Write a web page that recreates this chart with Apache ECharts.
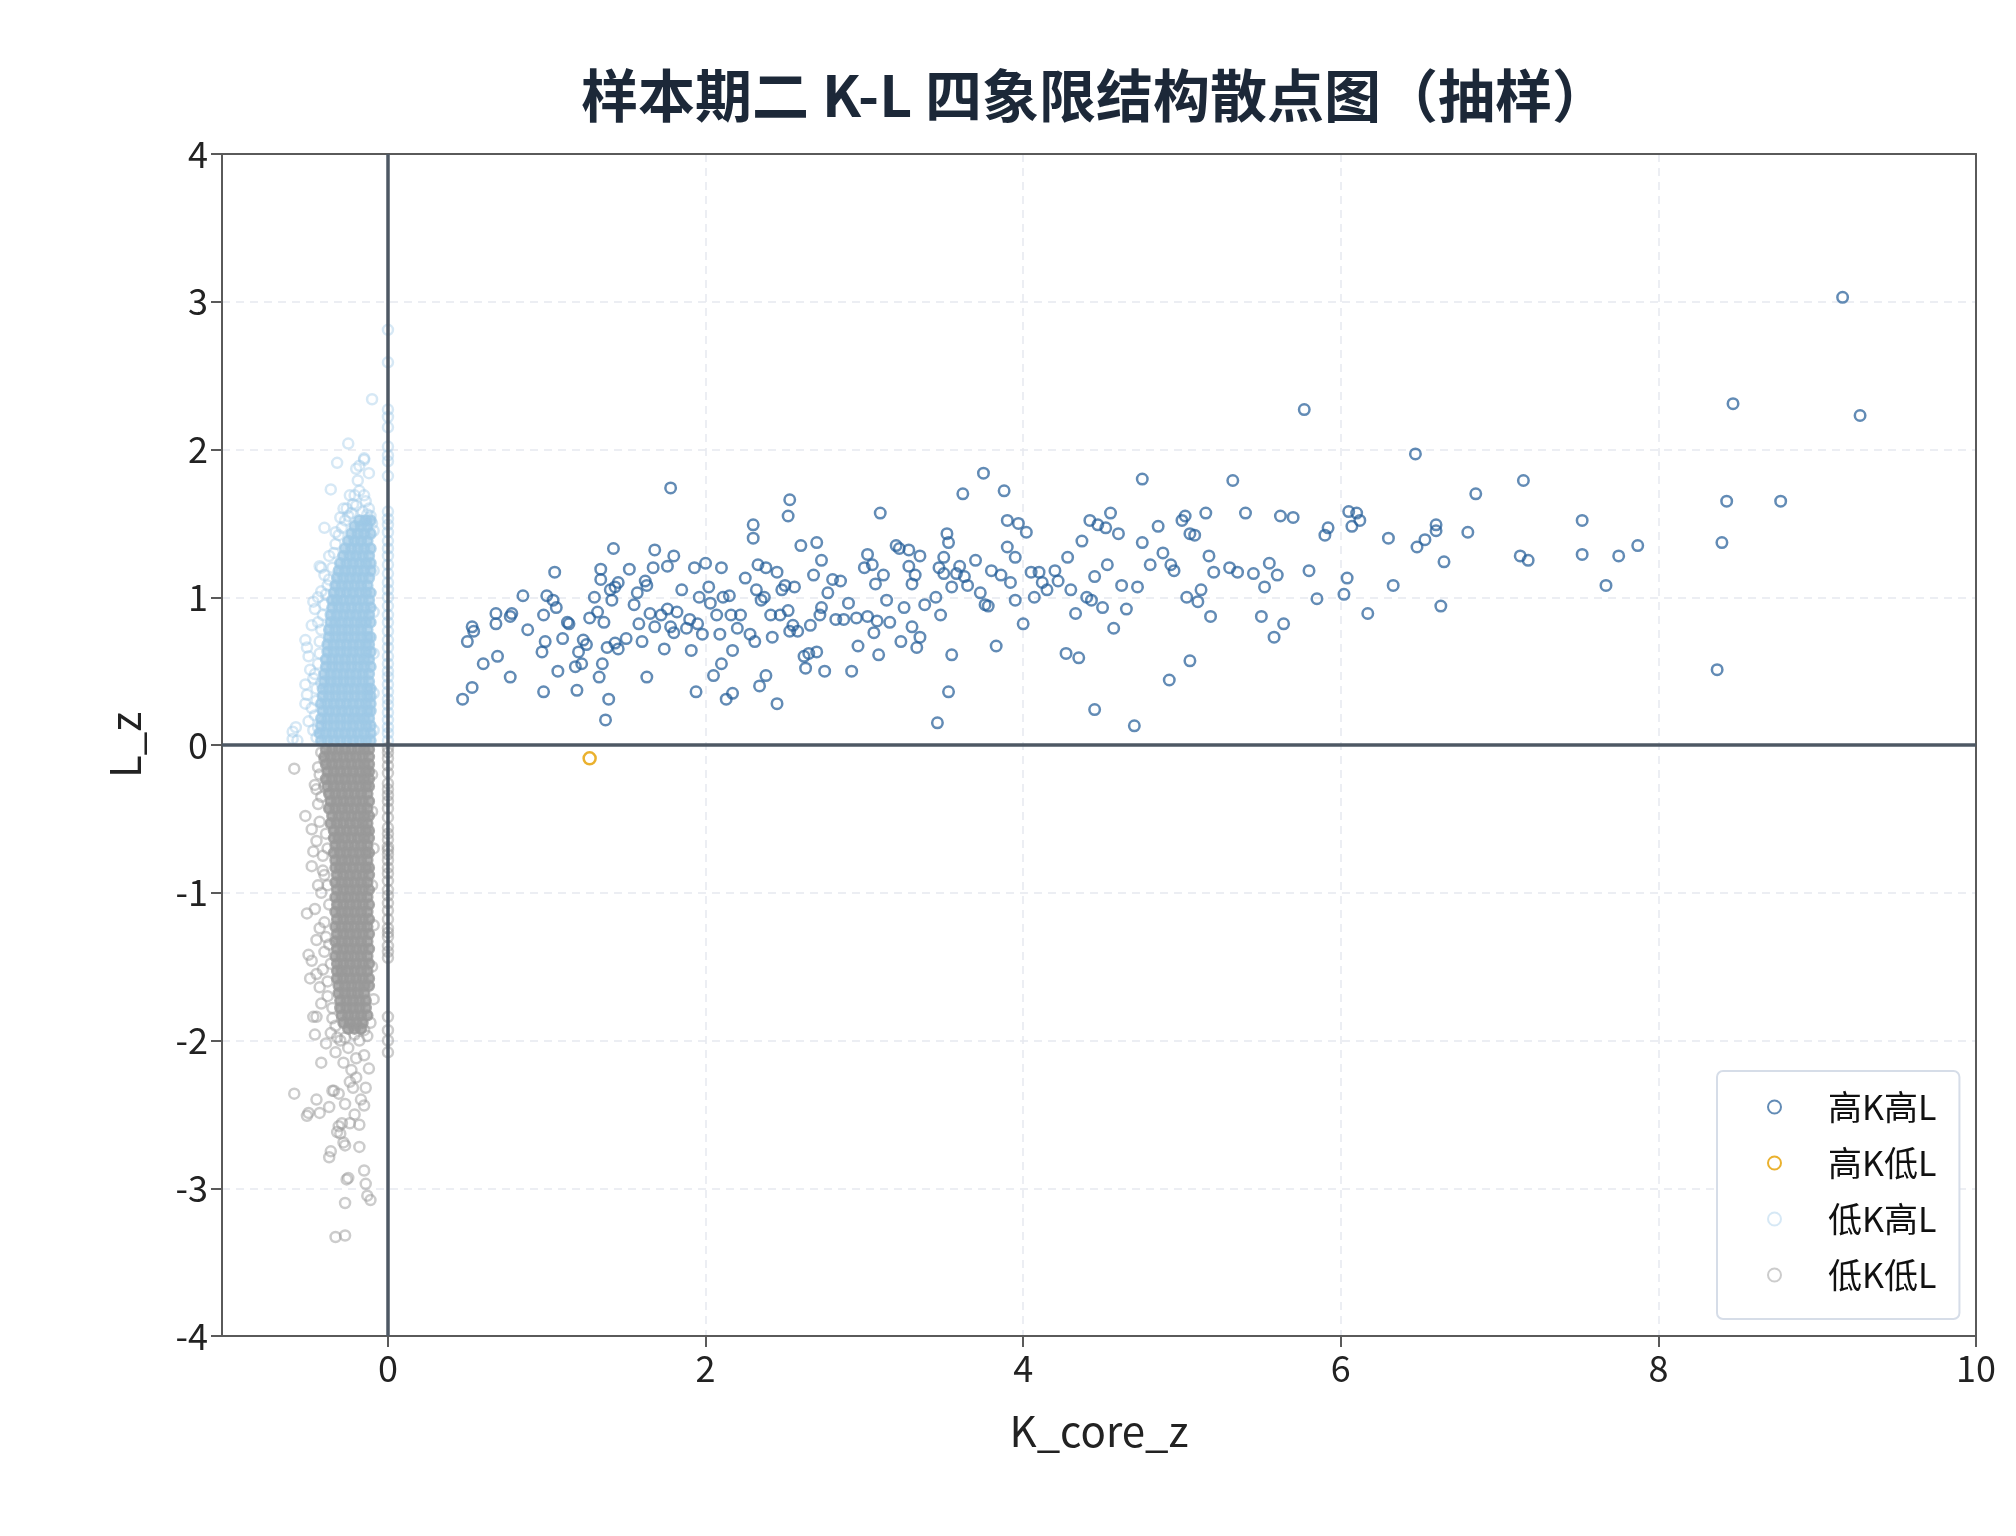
<!DOCTYPE html>
<html>
<head>
<meta charset="utf-8">
<style>
html,body{margin:0;padding:0;background:#fff;}
#chart{width:2016px;height:1536px;}
</style>
<script src="https://cdn.jsdelivr.net/npm/echarts@6/dist/echarts.min.js"></script>
</head>
<body>
<div id="chart"></div>
<script>
const titleText = '样本期二 K-L 四象限结构散点图（抽样）';
const seriesNames = ['高K高L', '高K低L', '低K高L', '低K低L'];
const xTicks = [0, 2, 4, 6, 8, 10];
const yTicks = [-4, -3, -2, -1, 0, 1, 2, 3, 4];

const highKHighL = [
[0.47,0.31],[0.50,0.70],[0.53,0.39],[0.53,0.80],[0.54,0.77],[0.60,0.55],[0.68,0.82],[0.68,0.89],[0.69,0.60],[0.77,0.46],
[0.77,0.87],[0.78,0.89],[0.85,1.01],[0.88,0.78],[0.97,0.63],[0.98,0.36],[0.98,0.88],[0.99,0.70],[1.00,1.01],[1.04,0.98],
[1.05,1.17],[1.06,0.93],[1.07,0.50],[1.10,0.72],[1.13,0.83],[1.14,0.82],[1.18,0.53],[1.19,0.37],[1.20,0.63],[1.22,0.55],
[1.23,0.71],[1.25,0.68],[1.27,0.86],[1.30,1.00],[1.32,0.90],[1.33,0.46],[1.34,1.12],[1.34,1.19],[1.35,0.55],[1.36,0.83],
[1.37,0.17],[1.38,0.66],[1.39,0.31],[1.40,1.05],[1.41,0.98],[1.42,1.33],[1.43,1.07],[1.43,0.69],[1.45,1.10],[1.45,0.65],
[1.50,0.72],[1.52,1.19],[1.55,0.95],[1.57,1.03],[1.58,0.82],[1.60,0.70],[1.62,1.11],[1.63,1.08],[1.63,0.46],[1.65,0.89],
[1.67,1.20],[1.68,0.80],[1.68,1.32],[1.72,0.88],[1.74,0.65],[1.76,1.21],[1.76,0.92],[1.78,1.74],[1.78,0.80],[1.80,0.76],
[1.80,1.28],[1.82,0.90],[1.85,1.05],[1.88,0.79],[1.90,0.85],[1.91,0.64],[1.93,1.20],[1.94,0.36],[1.95,0.82],[1.96,1.00],
[1.98,0.75],[2.00,1.23],[2.02,1.07],[2.03,0.96],[2.05,0.47],[2.07,0.88],[2.09,0.75],[2.10,0.55],[2.10,1.20],[2.11,1.00],
[2.13,0.31],[2.15,1.01],[2.16,0.88],[2.17,0.35],[2.17,0.64],[2.20,0.79],[2.22,0.88],[2.25,1.13],[2.28,0.75],[2.30,1.49],
[2.30,1.40],[2.31,0.70],[2.32,1.05],[2.33,1.22],[2.34,0.40],[2.35,0.98],[2.37,1.00],[2.38,0.47],[2.38,1.20],[2.41,0.88],
[2.42,0.73],[2.45,1.17],[2.45,0.28],[2.47,0.88],[2.48,1.05],[2.50,1.08],[2.52,1.55],[2.52,0.91],[2.53,0.77],[2.53,1.66],
[2.55,0.81],[2.56,1.07],[2.58,0.77],[2.60,1.35],[2.62,0.60],[2.63,0.52],[2.65,0.62],[2.66,0.81],[2.68,1.15],[2.70,1.37],
[2.70,0.63],[2.72,0.88],[2.73,1.25],[2.73,0.93],[2.75,0.50],[2.77,1.03],[2.80,1.12],[2.82,0.85],[2.85,1.11],[2.87,0.85],
[2.90,0.96],[2.92,0.50],[2.95,0.86],[2.96,0.67],[3.00,1.20],[3.02,1.29],[3.02,0.87],[3.05,1.22],[3.06,0.76],[3.07,1.09],
[3.08,0.84],[3.09,0.61],[3.10,1.57],[3.12,1.15],[3.14,0.98],[3.16,0.83],[3.20,1.35],[3.22,1.33],[3.23,0.70],[3.25,0.93],
[3.28,1.21],[3.28,1.32],[3.30,0.80],[3.30,1.09],[3.32,1.15],[3.33,0.66],[3.35,0.73],[3.35,1.28],[3.38,0.95],[3.45,1.00],
[3.46,0.15],[3.47,1.20],[3.48,0.88],[3.50,1.16],[3.50,1.27],[3.52,1.43],[3.53,1.37],[3.53,0.36],[3.55,0.61],[3.55,1.07],
[3.58,1.16],[3.60,1.21],[3.62,1.70],[3.63,1.14],[3.65,1.08],[3.70,1.25],[3.73,1.03],[3.75,1.84],[3.76,0.95],[3.78,0.94],
[3.80,1.18],[3.83,0.67],[3.86,1.15],[3.88,1.72],[3.90,1.52],[3.90,1.34],[3.92,1.10],[3.95,1.27],[3.95,0.98],[3.97,1.50],
[4.00,0.82],[4.02,1.44],[4.05,1.17],[4.07,1.00],[4.10,1.17],[4.12,1.10],[4.15,1.05],[4.20,1.18],[4.22,1.11],[4.27,0.62],
[4.28,1.27],[4.30,1.05],[4.33,0.89],[4.35,0.59],[4.37,1.38],[4.40,1.00],[4.42,1.52],[4.43,0.98],[4.45,0.24],[4.45,1.14],
[4.47,1.49],[4.50,0.93],[4.52,1.47],[4.53,1.22],[4.55,1.57],[4.57,0.79],[4.60,1.43],[4.62,1.08],[4.65,0.92],[4.70,0.13],
[4.72,1.07],[4.75,1.80],[4.75,1.37],[4.80,1.22],[4.85,1.48],[4.88,1.30],[4.92,0.44],[4.93,1.22],[4.95,1.18],[5.00,1.52],
[5.02,1.55],[5.03,1.00],[5.05,1.43],[5.05,0.57],[5.08,1.42],[5.10,0.97],[5.12,1.05],[5.15,1.57],[5.17,1.28],[5.18,0.87],
[5.20,1.17],[5.30,1.20],[5.32,1.79],[5.35,1.17],[5.40,1.57],[5.45,1.16],[5.50,0.87],[5.52,1.07],[5.55,1.23],[5.58,0.73],
[5.60,1.15],[5.62,1.55],[5.64,0.82],[5.70,1.54],[5.77,2.27],[5.80,1.18],[5.85,0.99],[5.90,1.42],[5.92,1.47],[6.02,1.02],
[6.04,1.13],[6.05,1.58],[6.07,1.48],[6.10,1.57],[6.12,1.52],[6.17,0.89],[6.30,1.40],[6.33,1.08],[6.47,1.97],[6.48,1.34],
[6.53,1.39],[6.60,1.49],[6.60,1.45],[6.63,0.94],[6.65,1.24],[6.80,1.44],[6.85,1.70],[7.13,1.28],[7.15,1.79],[7.18,1.25],
[7.52,1.52],[7.52,1.29],[7.67,1.08],[7.75,1.28],[7.87,1.35],[8.37,0.51],[8.40,1.37],[8.43,1.65],[8.47,2.31],[8.77,1.65],
[9.16,3.03],[9.27,2.23]
];

const highKLowL = [[1.27,-0.09]];

// 低K高L: dense core rows [y, x1, x2, ...]
const lowKHighLCoreRows = [
[0.03,-0.42,-0.38,-0.34,-0.30,-0.26,-0.22,-0.18,-0.14,-0.11],
[0.08,-0.43,-0.39,-0.35,-0.31,-0.27,-0.23,-0.19,-0.15,-0.11],
[0.13,-0.42,-0.38,-0.34,-0.30,-0.26,-0.22,-0.18,-0.14,-0.11],
[0.18,-0.42,-0.38,-0.34,-0.30,-0.26,-0.22,-0.19,-0.15,-0.12],
[0.23,-0.41,-0.37,-0.33,-0.29,-0.25,-0.21,-0.17,-0.13,-0.11],
[0.28,-0.42,-0.38,-0.34,-0.30,-0.26,-0.22,-0.18,-0.14,-0.11],
[0.33,-0.41,-0.37,-0.33,-0.29,-0.25,-0.21,-0.17,-0.13,-0.11],
[0.38,-0.41,-0.37,-0.33,-0.29,-0.25,-0.21,-0.17,-0.13,-0.11],
[0.43,-0.40,-0.36,-0.32,-0.28,-0.24,-0.20,-0.16,-0.12],
[0.48,-0.40,-0.36,-0.32,-0.28,-0.24,-0.20,-0.16,-0.12],
[0.53,-0.39,-0.35,-0.31,-0.27,-0.23,-0.19,-0.15,-0.11],
[0.58,-0.39,-0.35,-0.31,-0.27,-0.23,-0.19,-0.15,-0.12],
[0.63,-0.38,-0.34,-0.30,-0.26,-0.22,-0.18,-0.14,-0.11],
[0.68,-0.38,-0.34,-0.30,-0.26,-0.22,-0.18,-0.14,-0.12],
[0.73,-0.37,-0.33,-0.29,-0.25,-0.21,-0.17,-0.13,-0.11],
[0.78,-0.37,-0.33,-0.29,-0.25,-0.21,-0.17,-0.13],
[0.83,-0.36,-0.33,-0.29,-0.25,-0.21,-0.17,-0.14,-0.11],
[0.88,-0.36,-0.32,-0.28,-0.24,-0.20,-0.16,-0.12],
[0.93,-0.35,-0.31,-0.27,-0.23,-0.19,-0.15,-0.11],
[0.98,-0.35,-0.32,-0.28,-0.24,-0.20,-0.16,-0.12],
[1.03,-0.34,-0.30,-0.26,-0.22,-0.18,-0.14,-0.11],
[1.08,-0.33,-0.29,-0.25,-0.21,-0.17,-0.13],
[1.13,-0.32,-0.28,-0.24,-0.20,-0.16,-0.12],
[1.18,-0.31,-0.27,-0.23,-0.19,-0.15,-0.11],
[1.23,-0.30,-0.26,-0.22,-0.18,-0.14,-0.11],
[1.28,-0.28,-0.24,-0.20,-0.16,-0.12],
[1.33,-0.27,-0.23,-0.19,-0.15,-0.11],
[1.38,-0.25,-0.21,-0.17,-0.13],
[1.43,-0.23,-0.19,-0.15,-0.11],
[1.48,-0.21,-0.17,-0.13],
[1.52,-0.18,-0.14,-0.11]
];
// 低K高L: scattered points around the core
const lowKHighLScatter = [
[-0.60,0.09],[-0.60,0.04],[-0.58,0.12],[-0.57,0.03],[-0.50,0.16],[-0.52,0.28],[-0.51,0.34],[-0.52,0.41],[-0.49,0.51],[-0.51,0.66],
[-0.50,0.60],[-0.52,0.71],[-0.48,0.81],[-0.46,0.92],[-0.44,0.83],[-0.47,0.97],[-0.42,1.04],[-0.42,1.20],[-0.43,1.21],[-0.37,1.28],
[-0.40,1.47],[-0.33,1.44],[-0.30,1.54],[-0.28,1.60],[-0.24,1.69],[-0.36,1.73],[-0.21,1.69],[-0.19,1.79],[-0.20,1.87],[-0.18,1.89],
[-0.15,1.94],[-0.32,1.91],[-0.25,2.04],[-0.15,1.93],[-0.12,1.84],[-0.15,1.69],[-0.10,2.34],
[-0.45,0.05],[-0.46,0.20],[-0.45,0.38],[-0.44,0.55],[-0.43,0.70],[-0.41,0.88],[-0.39,1.02],[-0.37,1.12],[-0.34,1.30],[-0.31,1.42],
[-0.27,1.52],[-0.23,1.57],[-0.20,1.62],[-0.16,1.58],[-0.12,1.60],[-0.14,1.65],[-0.18,1.72],[-0.22,1.63],[-0.26,1.60],[-0.11,1.55],
[-0.09,0.10],[-0.09,0.35],[-0.09,0.62],[-0.09,0.90],[-0.09,1.18],[-0.09,1.45],[-0.47,0.45],[-0.48,0.25],[-0.44,1.00],[-0.40,1.15],
[-0.44,0.12],[-0.45,0.30],[-0.46,0.48],[-0.43,0.62],[-0.42,0.78],[-0.40,0.95],[-0.38,1.08],[-0.35,1.20],[-0.33,1.36],[-0.29,1.47],
[-0.25,1.55],[-0.47,0.10],[-0.42,0.42],[-0.10,1.50],[-0.13,1.56]
];
// 低K高L: points on the K_core_z = 0 column
const lowKHighLAxis = [
[0,0.03],[0,0.08],[0,0.12],[0,0.17],[0,0.22],[0,0.27],[0,0.31],[0,0.36],[0,0.41],[0,0.46],
[0,0.50],[0,0.55],[0,0.60],[0,0.66],[0,0.71],[0,0.77],[0,0.83],[0,0.88],[0,0.94],[0,1.00],
[0,1.05],[0,1.10],[0,1.16],[0,1.22],[0,1.28],[0,1.33],[0,1.38],[0,1.44],[0,1.49],[0,1.53],
[0,1.58],[0,1.82],[0,1.92],[0,1.96],[0,2.02],[0,2.15],[0,2.22],[0,2.27],[0,2.59],[0,2.81]
];

// 低K低L: dense core rows [y, x1, x2, ...]
const lowKLowLCoreRows = [
[-0.03,-0.39,-0.35,-0.31,-0.27,-0.23,-0.19,-0.15,-0.12],
[-0.08,-0.40,-0.36,-0.32,-0.28,-0.24,-0.20,-0.16,-0.12],
[-0.13,-0.39,-0.35,-0.31,-0.27,-0.23,-0.19,-0.15,-0.12],
[-0.18,-0.38,-0.34,-0.30,-0.26,-0.22,-0.18,-0.14,-0.12],
[-0.23,-0.39,-0.35,-0.31,-0.27,-0.23,-0.19,-0.15,-0.12],
[-0.28,-0.38,-0.34,-0.30,-0.26,-0.22,-0.18,-0.14,-0.12],
[-0.33,-0.37,-0.33,-0.29,-0.25,-0.21,-0.17,-0.13],
[-0.38,-0.36,-0.32,-0.28,-0.24,-0.20,-0.16,-0.12],
[-0.43,-0.37,-0.33,-0.29,-0.25,-0.21,-0.17,-0.13],
[-0.48,-0.35,-0.31,-0.27,-0.23,-0.19,-0.15,-0.12],
[-0.53,-0.36,-0.32,-0.28,-0.24,-0.20,-0.16,-0.13],
[-0.58,-0.34,-0.30,-0.26,-0.22,-0.18,-0.14,-0.12],
[-0.63,-0.34,-0.31,-0.27,-0.23,-0.19,-0.15,-0.12],
[-0.68,-0.33,-0.29,-0.25,-0.21,-0.17,-0.13],
[-0.73,-0.34,-0.30,-0.26,-0.22,-0.18,-0.14,-0.12],
[-0.78,-0.33,-0.29,-0.25,-0.21,-0.17,-0.13],
[-0.83,-0.33,-0.30,-0.26,-0.22,-0.18,-0.14,-0.12],
[-0.88,-0.32,-0.28,-0.24,-0.20,-0.16,-0.12],
[-0.93,-0.33,-0.29,-0.25,-0.21,-0.17,-0.13],
[-0.98,-0.32,-0.28,-0.24,-0.20,-0.16,-0.12],
[-1.03,-0.33,-0.29,-0.25,-0.21,-0.17,-0.13],
[-1.08,-0.32,-0.28,-0.24,-0.20,-0.16,-0.12],
[-1.13,-0.33,-0.29,-0.25,-0.21,-0.17,-0.13],
[-1.18,-0.32,-0.28,-0.24,-0.20,-0.16,-0.12],
[-1.23,-0.33,-0.29,-0.25,-0.21,-0.17,-0.13],
[-1.28,-0.32,-0.28,-0.24,-0.20,-0.16,-0.12],
[-1.33,-0.33,-0.29,-0.25,-0.21,-0.17,-0.13],
[-1.38,-0.32,-0.28,-0.24,-0.20,-0.16,-0.12],
[-1.43,-0.33,-0.29,-0.25,-0.21,-0.17,-0.13],
[-1.48,-0.32,-0.28,-0.24,-0.20,-0.16,-0.12],
[-1.53,-0.32,-0.29,-0.25,-0.21,-0.17,-0.13],
[-1.58,-0.32,-0.28,-0.24,-0.20,-0.16,-0.12],
[-1.63,-0.31,-0.27,-0.23,-0.19,-0.15,-0.12],
[-1.68,-0.31,-0.27,-0.23,-0.19,-0.15],
[-1.73,-0.30,-0.26,-0.22,-0.18,-0.14],
[-1.78,-0.30,-0.26,-0.22,-0.18,-0.14],
[-1.83,-0.29,-0.25,-0.21,-0.17,-0.13],
[-1.88,-0.28,-0.24,-0.20,-0.16],
[-1.92,-0.25,-0.21,-0.17]
];
// 低K低L: scattered points around the core and in the lower tail
const lowKLowLScatter = [
[-0.59,-0.16],[-0.46,-0.27],[-0.52,-0.48],[-0.48,-0.57],[-0.45,-0.65],[-0.48,-0.82],[-0.41,-0.85],[-0.46,-1.11],[-0.51,-1.14],[-0.43,-1.24],
[-0.45,-1.32],[-0.50,-1.42],[-0.48,-1.46],[-0.45,-1.55],[-0.49,-1.58],[-0.43,-1.64],[-0.45,-1.84],[-0.47,-1.84],[-0.46,-1.96],[-0.39,-2.02],
[-0.42,-2.15],[-0.59,-2.36],[-0.45,-2.40],[-0.50,-2.49],[-0.43,-2.49],[-0.51,-2.51],[-0.37,-2.45],[-0.31,-2.58],[-0.30,-2.63],[-0.24,-2.56],
[-0.18,-2.57],[-0.15,-2.44],[-0.27,-2.43],[-0.37,-2.79],[-0.36,-2.75],[-0.18,-2.72],[-0.27,-2.71],[-0.28,-2.69],[-0.32,-2.62],[-0.29,-2.56],
[-0.26,-2.94],[-0.25,-2.93],[-0.15,-2.88],[-0.14,-2.97],[-0.13,-3.05],[-0.11,-3.08],[-0.27,-3.10],[-0.33,-3.33],[-0.27,-3.32],[-0.34,-2.34],
[-0.22,-2.32],[-0.14,-2.32],[-0.20,-2.25],[-0.12,-2.19],[-0.23,-2.20],[-0.15,-2.10],[-0.35,-2.34],
[-0.40,-0.10],[-0.42,-0.35],[-0.39,-0.60],[-0.41,-0.75],[-0.38,-0.95],[-0.40,-1.20],[-0.37,-1.35],[-0.41,-1.52],[-0.38,-1.70],[-0.36,-1.95],
[-0.30,-2.00],[-0.25,-2.05],[-0.18,-2.00],[-0.13,-1.97],[-0.20,-2.12],[-0.28,-2.15],[-0.33,-2.08],[-0.24,-2.28],[-0.31,-2.36],[-0.17,-2.40],
[-0.21,-2.50],[-0.10,-0.20],[-0.10,-0.45],[-0.09,-0.70],[-0.10,-0.95],[-0.09,-1.22],[-0.10,-1.50],[-0.09,-1.72],[-0.11,-1.88],[-0.44,-0.40],
[-0.43,-0.20],[-0.42,-1.00],[-0.40,-1.40],[-0.42,-1.75],[-0.35,-1.85],[-0.32,-1.98],[-0.21,-1.96],
[-0.42,-0.05],[-0.44,-0.15],[-0.40,-0.28],[-0.43,-0.52],[-0.38,-0.70],[-0.40,-0.88],[-0.37,-1.08],[-0.39,-1.30],[-0.36,-1.48],[-0.38,-1.60],
[-0.35,-1.78],[-0.33,-1.90],[-0.27,-1.98],[-0.15,-1.93],[-0.45,-0.30],[-0.47,-0.72],[-0.44,-0.95]
];
// 低K低L: points on the K_core_z = 0 column
const lowKLowLAxis = [
[0,-0.02],[0,-0.05],[0,-0.09],[0,-0.14],[0,-0.19],[0,-0.26],[0,-0.30],[0,-0.34],[0,-0.38],[0,-0.43],
[0,-0.49],[0,-0.56],[0,-0.60],[0,-0.64],[0,-0.69],[0,-0.71],[0,-0.74],[0,-0.78],[0,-0.83],[0,-0.87],
[0,-0.92],[0,-0.98],[0,-1.02],[0,-1.07],[0,-1.12],[0,-1.18],[0,-1.24],[0,-1.27],[0,-1.30],[0,-1.36],
[0,-1.40],[0,-1.44],[0,-1.84],[0,-1.93],[0,-2.00],[0,-2.08]
];

function rowsToPoints(rows) {
  const out = [];
  rows.forEach(r => { for (let i = 1; i < r.length; i++) out.push([r[i], r[0]]); });
  return out;
}
function filledItems(points, color, opacity) {
  return points.map(p => ({ value: p, itemStyle: { color: color, borderColor: color, opacity: opacity } }));
}

const FONT = '"Noto Sans CJK SC", "Noto Sans", sans-serif';
const cDark = '#1f5a96', cAmber = '#e8a917', cLight = '#9dc8e6', cGray = '#999999';
const axisColor = '#5a5a5a';
const X_MIN = -1.045, X_MAX = 10, Y_MIN = -4, Y_MAX = 4;

const ringStyle = (c, op, bw) => ({ color: 'rgba(0,0,0,0)', borderColor: c, borderWidth: bw, opacity: op });
const frameAxis = (pos, min, max) => ({
  type: 'value', position: pos, min: min, max: max,
  axisLine: { show: true, onZero: false, lineStyle: { color: axisColor, width: 2 } },
  axisTick: { show: false }, axisLabel: { show: false }, splitLine: { show: false }
});

const chart = echarts.init(document.getElementById('chart'), null, { renderer: 'canvas' });
chart.setOption({
  animation: false,
  backgroundColor: '#ffffff',
  textStyle: { fontFamily: FONT },
  title: {
    text: titleText,
    left: 576, top: 62,
    textStyle: { fontFamily: FONT, fontSize: 57, fontWeight: 'bold', color: '#1c2838' }
  },
  grid: { left: 222, right: 40, top: 154, bottom: 200, show: false },
  legend: {
    orient: 'vertical',
    left: 1717, top: 1071,
    padding: [16, 23, 24, 50],
    itemWidth: 13, itemHeight: 13,
    itemGap: 16,
    backgroundColor: '#ffffff',
    borderColor: '#d6dde8', borderWidth: 2, borderRadius: 6,
    textStyle: { fontFamily: FONT, fontSize: 34, color: '#111111', lineHeight: 40, padding: [0, 0, 0, 42] },
    data: seriesNames
  },
  xAxis: [{
    type: 'value', min: X_MIN, max: X_MAX, splitNumber: 5,
    name: 'K_core_z', nameLocation: 'middle', nameGap: 74,
    nameTextStyle: { fontFamily: FONT, fontSize: 42, color: '#222222' },
    axisLine: { show: true, onZero: false, lineStyle: { color: axisColor, width: 2 } },
    axisTick: { show: true, length: 11, lineStyle: { color: axisColor, width: 2 }, customValues: xTicks },
    axisLabel: { fontFamily: FONT, fontSize: 36, color: '#222222', margin: 14, customValues: xTicks },
    splitLine: { show: true, lineStyle: { color: '#e6e9ef', width: 1.5, type: [8, 6] } }
  }, frameAxis('top', X_MIN, X_MAX)],
  yAxis: [{
    type: 'value', min: Y_MIN, max: Y_MAX, interval: 1,
    name: 'L_z', nameLocation: 'middle', nameGap: 76,
    nameTextStyle: { fontFamily: FONT, fontSize: 42, color: '#222222' },
    axisLine: { show: true, onZero: false, lineStyle: { color: axisColor, width: 2 } },
    axisTick: { show: true, length: 11, lineStyle: { color: axisColor, width: 2 }, customValues: yTicks },
    axisLabel: { fontFamily: FONT, fontSize: 36, color: '#222222', margin: 14, customValues: yTicks },
    splitLine: { show: true, lineStyle: { color: '#e6e9ef', width: 1.5, type: [8, 6] } }
  }, frameAxis('right', Y_MIN, Y_MAX)],
  series: [
    {
      name: seriesNames[0], type: 'scatter', symbol: 'circle', symbolSize: 10.5,
      itemStyle: ringStyle(cDark, 0.7, 2.5),
      data: highKHighL,
      markLine: {
        silent: true, symbol: ['none', 'none'], label: { show: false },
        lineStyle: { color: '#4e5864', width: 3.5, type: 'solid', opacity: 1 },
        emphasis: { disabled: true },
        data: [{ xAxis: 0 }, { yAxis: 0 }]
      }
    },
    {
      name: seriesNames[1], type: 'scatter', symbol: 'circle', symbolSize: 12,
      itemStyle: ringStyle(cAmber, 0.9, 2.5),
      data: highKLowL
    },
    {
      name: seriesNames[2], type: 'scatter', symbol: 'circle', symbolSize: 10,
      itemStyle: ringStyle(cLight, 0.42, 2.5),
      data: filledItems(rowsToPoints(lowKHighLCoreRows), cLight, 0.75).concat(lowKHighLScatter, lowKHighLAxis)
    },
    {
      name: seriesNames[3], type: 'scatter', symbol: 'circle', symbolSize: 10,
      itemStyle: ringStyle(cGray, 0.5, 2.5),
      data: filledItems(rowsToPoints(lowKLowLCoreRows), cGray, 0.8).concat(lowKLowLScatter, lowKLowLAxis)
    }
  ]
});
</script>
</body>
</html>
